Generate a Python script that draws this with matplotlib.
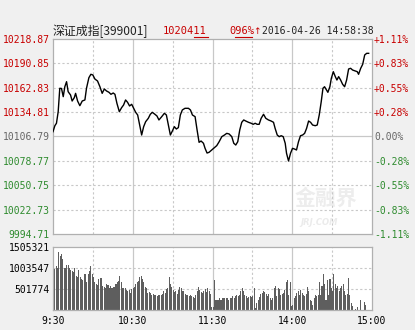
import matplotlib
matplotlib.use("Agg")
import matplotlib.pyplot as plt
from matplotlib.lines import Line2D

# ---------------- data ----------------
prev_close = 10106.79
price_ticks = [10218.87, 10190.85, 10162.83, 10134.81, 10106.79,
               10078.77, 10050.75, 10022.73, 9994.71]
pct_labels = ["+1.11%", "+0.83%", "+0.55%", "+0.28%", "0.00%",
              "-0.28%", "-0.55%", "-0.83%", "-1.11%"]
time_ticks = [0, 60, 120, 180, 240]
time_labels = ["9:30", "10:30", "11:30", "14:00", "15:00"]
vol_ticks = [501774, 1003547, 1505321]

price_minutes = [0, 1.4, 2.6, 3.9, 5.1, 6.4, 7.7, 8.9, 10.2, 11.4, 13.2, 14.4, 16.0, 17.0, 18.5,
                 20.2, 22.0, 24.0, 25.2, 27.0, 28.5, 30.0, 31.5, 33.5, 35.3, 37.0, 38.6, 40.3,
                 42.1, 43.6, 45.3, 46.6, 48.1, 49.9, 51.6, 53.1, 54.6, 56.1, 57.6, 59.2, 60.7,
                 62.2, 63.7, 65.2, 66.7, 68.2, 69.7, 71.7, 73.2, 74.7, 76.7, 78.2, 79.7, 81.8,
                 83.8, 85.3, 86.8, 88.3, 89.8, 91.3, 92.8, 94.3, 95.8, 97.3, 99.3, 101.9, 103.4,
                 104.9, 106.9, 108.4, 109.9, 111.4, 113.2, 114.4, 115.9, 117.4, 119.4, 121.4,
                 123.2, 125.0, 127.0, 129.0, 130.7, 132.5, 134.5, 136.0, 137.5, 139.0, 140.5,
                 142.0, 143.5, 145.0, 147.1, 149.1, 150.6, 152.1, 153.6, 155.1, 156.6, 158.4,
                 160.1, 162.1, 164.1, 165.9, 167.1, 168.7, 170.2, 171.7, 173.2, 174.7, 175.7,
                 177.2, 178.7, 180.2, 181.7, 183.2, 184.7, 186.2, 187.8, 189.3, 190.8, 192.3,
                 193.8, 195.3, 197.3, 198.8, 200.3, 201.8, 203.1, 204.3, 205.8, 206.8, 208.3,
                 209.4, 210.9, 212.4, 213.6, 214.9, 216.4, 217.9, 219.4, 220.9, 222.4, 223.9,
                 225.4, 227.4, 228.9, 229.9, 231.5, 233.0, 234.5, 236.0, 237.5]
price_values = [10112.3, 10119.2, 10122.0, 10135.3, 10162.2, 10162.0, 10152.6, 10164.0, 10169.8,
                10158.3, 10154.5, 10147.6, 10151.4, 10156.4, 10147.6, 10142.2, 10147.6, 10148.8,
                10162.2, 10174.4, 10178.3, 10177.5, 10172.9, 10170.6, 10164.0, 10156.4, 10161.4,
                10159.1, 10157.6, 10155.3, 10156.8, 10155.3, 10144.9, 10135.3, 10139.9, 10143.0,
                10148.8, 10146.1, 10141.9, 10143.8, 10139.2, 10134.6, 10131.5, 10120.0, 10108.5,
                10118.1, 10123.8, 10127.7, 10132.3, 10134.6, 10132.3, 10130.4, 10125.8, 10129.6,
                10133.5, 10131.5, 10120.0, 10108.5, 10113.1, 10118.1, 10115.4, 10117.0, 10131.5,
                10137.3, 10139.2, 10139.2, 10137.3, 10131.5, 10129.6, 10114.3, 10100.1, 10101.6,
                10099.0, 10093.2, 10087.8, 10088.6, 10091.3, 10093.9, 10096.3, 10100.8, 10106.6,
                10108.5, 10110.4, 10109.7, 10106.6, 10099.0, 10097.0, 10100.8, 10114.3, 10123.1,
                10125.8, 10124.6, 10123.1, 10122.0, 10120.8, 10122.0, 10120.8, 10120.8, 10127.7,
                10132.3, 10127.7, 10125.8, 10124.6, 10123.1, 10116.2, 10108.5, 10106.6, 10107.7,
                10106.6, 10099.0, 10087.5, 10078.6, 10087.5, 10093.2, 10092.4, 10091.3, 10100.8,
                10107.7, 10108.5, 10110.4, 10116.2, 10124.6, 10123.1, 10120.0, 10119.2, 10120.0,
                10131.5, 10146.8, 10162.2, 10164.0, 10160.2, 10157.6, 10164.0, 10173.7, 10181.3,
                10175.6, 10171.7, 10175.6, 10171.7, 10166.8, 10164.0, 10171.7, 10184.4, 10185.2,
                10183.2, 10182.1, 10181.3, 10178.3, 10185.2, 10189.8, 10200.5, 10202.4, 10202.4]

# volume per minute (thousands of lots), minute 0 .. 235
volume_k = [1460, 980, 1040, 1000, 1380, 1280, 1340, 1220, 1000, 1000, 1080, 1080, 1000, 950, 920,
            900, 1000, 820, 780, 950, 780, 740, 710, 870, 860, 680, 860, 940, 1060, 860,
            780, 680, 630, 600, 740, 760, 760, 570, 550, 530, 630, 600, 530, 570, 520,
            550, 550, 620, 660, 700, 820, 660, 530, 530, 530, 470, 450, 470, 410, 490,
            530, 550, 620, 660, 700, 780, 820, 740, 660, 550, 520, 410, 440, 410, 370,
            390, 370, 360, 330, 370, 360, 370, 390, 450, 410, 490, 530, 780, 630, 550,
            470, 440, 450, 390, 470, 550, 520, 450, 450, 390, 360, 370, 330, 370, 330,
            310, 280, 370, 450, 550, 470, 440, 410, 450, 490, 440, 520, 450, 390, 60,
            60, 710, 250, 250, 250, 280, 250, 290, 280, 280, 280, 290, 250, 280, 290,
            330, 290, 330, 370, 330, 370, 450, 530, 450, 370, 330, 290, 310, 330, 310,
            330, 530, 50, 170, 250, 310, 390, 410, 450, 440, 390, 330, 390, 280, 250,
            290, 530, 570, 330, 520, 490, 370, 390, 410, 470, 660, 710, 370, 660, 90,
            130, 290, 330, 410, 450, 370, 470, 410, 370, 330, 390, 550, 450, 230, 210,
            130, 290, 370, 330, 370, 660, 370, 570, 860, 610, 250, 710, 370, 740, 530,
            450, 860, 610, 520, 570, 450, 520, 570, 630, 450, 370, 390, 760, 370, 170,
            90, 0, 25, 0, 60, 0, 230, 0, 0, 190, 110]

# ---------------- style ----------------
RED = "#c80000"
GREEN = "#2e8b2e"
GRAY0 = "#666666"
GRID = "#c8c8c8"
SPINE = "#b0b0b0"
MONO = "DejaVu Sans Mono"

W, H = 415, 330
fig = plt.figure(figsize=(W / 100, H / 100), dpi=100, facecolor="#f0f0f0")


def fx(px):
    return px / W


def fy(py):
    return 1 - py / H


# ---------------- main price panel ----------------
ax = fig.add_axes([fx(53), fy(234), fx(372) - fx(53), fy(39) - fy(234)])
ax.set_facecolor("white")
ax.set_xlim(0, 240)
ax.set_ylim(price_ticks[-1], price_ticks[0])

for t in price_ticks[1:-1]:
    if abs(t - prev_close) < 1e-6:
        ax.axhline(t, color=GRID, lw=0.9, zorder=1)
    else:
        ax.axhline(t, color=GRID, lw=0.8, ls=(0, (2, 2)), zorder=1)
for m in range(30, 240, 30):
    if m % 60 == 0:
        ax.axvline(m, color=GRID, lw=0.9, zorder=1)
    else:
        ax.axvline(m, color=GRID, lw=0.8, ls=(0, (2, 2)), zorder=1)

# watermark
ax.text(0.855, 0.185, "金融界", transform=ax.transAxes, ha="center", va="center",
        fontsize=15, color="#ededed", family=["Noto Sans CJK SC", "DejaVu Sans"],
        fontweight="bold", zorder=0.5)
ax.text(0.835, 0.06, "JRJ.COM", transform=ax.transAxes, ha="center", va="center",
        fontsize=6, color="#ebebeb", fontweight="bold", style="italic", zorder=0.5)

ax.plot(price_minutes, price_values, color="black", lw=1.0, zorder=3)

ax.set_xticks([])
ax.set_yticks(price_ticks)
ax.set_yticklabels([f"{t:.2f}" for t in price_ticks], family=MONO, fontsize=7)
ax.tick_params(axis="y", length=0, pad=2.5)
for lab, t in zip(ax.get_yticklabels(), price_ticks):
    lab.set_color(RED if t > prev_close + 1e-6 else (GREEN if t < prev_close - 1e-6 else GRAY0))
for s in ax.spines.values():
    s.set_color(SPINE)
    s.set_linewidth(0.9)

ax2 = ax.twinx()
ax2.set_ylim(ax.get_ylim())
ax2.set_yticks(price_ticks)
ax2.set_yticklabels(pct_labels, family=MONO, fontsize=7)
ax2.tick_params(axis="y", length=0, pad=1.5)
for lab, t in zip(ax2.get_yticklabels(), price_ticks):
    lab.set_color(RED if t > prev_close + 1e-6 else (GREEN if t < prev_close - 1e-6 else GRAY0))
for s in ax2.spines.values():
    s.set_visible(False)

# ---------------- volume panel ----------------
axv = fig.add_axes([fx(53), fy(310), fx(372) - fx(53), fy(247) - fy(310)])
axv.set_facecolor("white")
axv.set_xlim(0, 240)
axv.set_ylim(0, vol_ticks[-1])
for t in vol_ticks[:-1]:
    axv.axhline(t, color=GRID, lw=0.8, ls=(0, (2, 2)), zorder=1)
for m in range(30, 240, 30):
    if m % 60 == 0:
        axv.axvline(m, color=GRID, lw=0.9, zorder=1)
    else:
        axv.axvline(m, color=GRID, lw=0.8, ls=(0, (2, 2)), zorder=1)
minutes = list(range(len(volume_k)))
axv.bar(minutes, [v * 1000 for v in volume_k], width=0.78, align="edge",
        color="#5e5e5e", zorder=2, linewidth=0)
axv.set_yticks(vol_ticks)
axv.set_yticklabels([str(v) for v in vol_ticks], family=MONO, fontsize=7, color="black")
axv.set_xticks(time_ticks)
axv.set_xticklabels(time_labels, family=MONO, fontsize=7, color="black")
axv.tick_params(axis="both", length=0)
axv.tick_params(axis="y", pad=2.5)
axv.tick_params(axis="x", pad=4)
for s in axv.spines.values():
    s.set_color(SPINE)
    s.set_linewidth(0.9)

# ---------------- header ----------------
ty = fy(31)
fig.text(fx(53), ty, "深证成指[399001]", ha="left", va="center", fontsize=8.6,
         family=["Noto Sans CJK SC", "DejaVu Sans"], color="#222222")
fig.text(fx(163), ty, "1020411", ha="left", va="center", fontsize=7.5, family=MONO, color=RED)
fig.text(fx(229), ty, "096%", ha="left", va="center", fontsize=7.5, family=MONO, color=RED)
fig.text(fx(253.5), ty, "↑", ha="left", va="center", fontsize=6.5, family="DejaVu Sans", color=RED)
fig.text(fx(262), ty, "2016-04-26 14:58:38", ha="left", va="center", fontsize=7,
         family=MONO, color="#222222")
fig.add_artist(Line2D([fx(194), fx(208)], [fy(36.5), fy(36.5)], color=RED, lw=0.8))
fig.add_artist(Line2D([fx(235), fx(252)], [fy(36.5), fy(36.5)], color=RED, lw=0.8))

fig.savefig("out.png", dpi=100, facecolor=fig.get_facecolor())
